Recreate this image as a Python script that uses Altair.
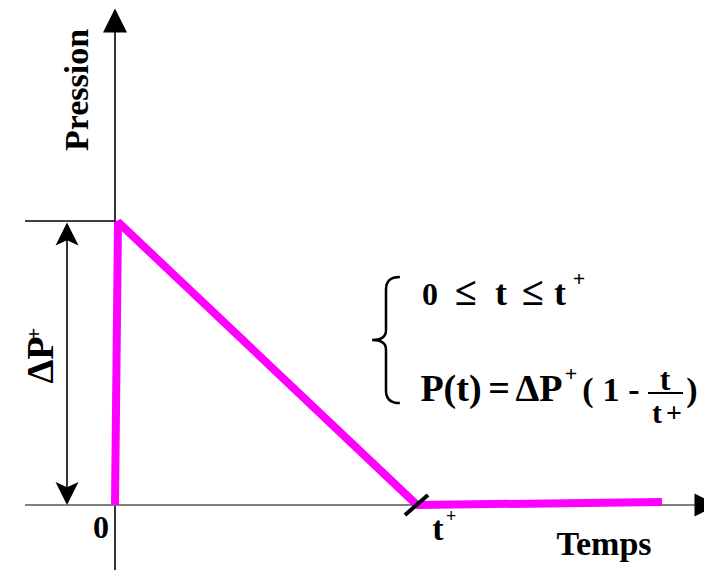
import altair as alt
import pandas as pd

# Units: t in multiples of t+, p in multiples of ΔP+
X_DOMAIN = [-0.356667, 1.963333]
Y_DOMAIN = [-0.228873, 1.75]

# Pressure history (triangular pulse)
pulse_t = [0.0, 0.01, 1.0067, 1.8233]
pulse_p = [0.0, 0.9965, 0.0, 0.0106]

# Straight guide lines: axes, reference line, dimension arrow shaft, fraction bar
seg_t1 = [0.0, -0.30, -0.30, -0.16, 1.7767]
seg_p1 = [-0.30, 0.0, 1.0, 0.03, 0.3944]
seg_t2 = [0.0, 1.9333, 0.0, -0.16, 1.8933]
seg_p2 = [1.6655, 0.0, 1.0, 0.97, 0.3944]
seg_col = ["#000000", "#808080", "#000000", "#000000", "#000000"]
seg_w = [1.6, 2.0, 1.6, 1.6, 2.0]

# t+ tick on the time axis
tick_t1 = [0.9667]
tick_p1 = [-0.0352]
tick_t2 = [1.0433]
tick_p2 = [0.0352]

# Arrow heads
head_t = [0.0, 1.97, -0.16, -0.16]
head_p = [1.706, 0.0, 0.9542, 0.0405]
head_shape = [
    "M0,-1L1,1L-1,1Z",
    "M1,0L-1,-1L-1,1Z",
    "M0,-1L1,1L0,0.55L-1,1Z",
    "M0,1L1,-1L0,-0.55L-1,-1Z",
]
head_size = [576, 529, 529, 529]

# Brace
brace_t = [0.9033]
brace_p = [0.581]
brace_shape = ["M0.22,-1Q0,-1 0,-0.8L0,-0.15Q0,0 -0.22,0Q0,0 0,0.15L0,0.8Q0,1 0.22,1"]
brace_size = [15876]

# Texts (alphabetic baseline)
txt_label = ["Pression", "ΔP", "0", "t", "Temps",
             "0", "≤", "t", "≤", "t",
             "P(t)", "=", "ΔP", "(", "1", "-", ")", "t", "t"]
txt_t = [-0.09, -0.2067, -0.0467, 1.0767, 1.63,
         1.05, 1.17, 1.2867, 1.3933, 1.4833,
         1.12, 1.28, 1.4133, 1.5767, 1.6533, 1.73, 1.9233, 1.8333, 1.8067]
txt_p = [1.4613, 0.5106, -0.1162, -0.1232, -0.176,
         0.7042, 0.7042, 0.7042, 0.7042, 0.7042,
         0.3662, 0.3662, 0.3662, 0.3662, 0.3662, 0.3662, 0.3662, 0.4049, 0.2887]
txt_fs = [34, 38, 32, 34, 34,
          32, 40, 36, 40, 36,
          38, 38, 38, 34, 34, 34, 34, 32, 30]
txt_angle = [270, 270, 0, 0, 0,
             0, 0, 0, 0, 0,
             0, 0, 0, 0, 0, 0, 0, 0, 0]

# Superscript "+" signs (middle baseline)
sup_label = ["+", "+", "+", "+", "+"]
sup_t = [-0.27, 1.12, 1.5467, 1.52, 1.8633]
sup_p = [0.602, -0.0423, 0.7958, 0.4613, 0.3204]
sup_fs = [22, 18, 22, 22, 28]
sup_angle = [270, 0, 0, 0, 0]

xs = alt.Scale(domain=X_DOMAIN, nice=False, zero=False)
ys = alt.Scale(domain=Y_DOMAIN, nice=False, zero=False)

seg_df = pd.DataFrame({"t1": seg_t1, "p1": seg_p1, "t2": seg_t2, "p2": seg_p2,
                       "col": seg_col, "w": seg_w})
segs = alt.Chart(seg_df).mark_rule().encode(
    x=alt.X("t1:Q", scale=xs, axis=None),
    x2="t2:Q",
    y=alt.Y("p1:Q", scale=ys, axis=None),
    y2="p2:Q",
    color=alt.Color("col:N", scale=None),
    strokeWidth=alt.StrokeWidth("w:Q", scale=None),
)

pulse_df = pd.DataFrame({"t": pulse_t, "p": pulse_p, "o": list(range(len(pulse_t)))})
pulse = alt.Chart(pulse_df).mark_line(color="#FF00FF", strokeWidth=8, strokeJoin="bevel").encode(
    x=alt.X("t:Q", scale=xs, axis=None),
    y=alt.Y("p:Q", scale=ys, axis=None),
    order="o:Q",
)

tick_df = pd.DataFrame({"t1": tick_t1, "p1": tick_p1, "t2": tick_t2, "p2": tick_p2})
tick = alt.Chart(tick_df).mark_rule(color="black", strokeWidth=4).encode(
    x=alt.X("t1:Q", scale=xs, axis=None),
    x2="t2:Q",
    y=alt.Y("p1:Q", scale=ys, axis=None),
    y2="p2:Q",
)

head_df = pd.DataFrame({"t": head_t, "p": head_p, "shape": head_shape, "size": head_size})
heads = alt.Chart(head_df).mark_point(filled=True, color="black", opacity=1, strokeWidth=0).encode(
    x=alt.X("t:Q", scale=xs, axis=None),
    y=alt.Y("p:Q", scale=ys, axis=None),
    shape=alt.Shape("shape:N", scale=None),
    size=alt.Size("size:Q", scale=None),
)

brace_df = pd.DataFrame({"t": brace_t, "p": brace_p, "shape": brace_shape, "size": brace_size})
brace = alt.Chart(brace_df).mark_point(filled=False, color="black", opacity=1, strokeWidth=2.5).encode(
    x=alt.X("t:Q", scale=xs, axis=None),
    y=alt.Y("p:Q", scale=ys, axis=None),
    shape=alt.Shape("shape:N", scale=None),
    size=alt.Size("size:Q", scale=None),
)

txt_df = pd.DataFrame({"label": txt_label, "t": txt_t, "p": txt_p, "fs": txt_fs, "angle": txt_angle})
texts = alt.Chart(txt_df).mark_text(
    font="Liberation Serif", fontWeight="bold", align="center", baseline="alphabetic", color="black"
).encode(
    x=alt.X("t:Q", scale=xs, axis=None),
    y=alt.Y("p:Q", scale=ys, axis=None),
    text="label:N",
    size=alt.Size("fs:Q", scale=None),
    angle=alt.Angle("angle:Q", scale=None),
)

sup_df = pd.DataFrame({"label": sup_label, "t": sup_t, "p": sup_p, "fs": sup_fs, "angle": sup_angle})
sups = alt.Chart(sup_df).mark_text(
    font="Liberation Serif", fontWeight="bold", align="center", baseline="middle", color="black"
).encode(
    x=alt.X("t:Q", scale=xs, axis=None),
    y=alt.Y("p:Q", scale=ys, axis=None),
    text="label:N",
    size=alt.Size("fs:Q", scale=None),
    angle=alt.Angle("angle:Q", scale=None),
)

chart = alt.layer(segs, pulse, tick, heads, brace, texts, sups).properties(
    width=696, height=562, padding=0, autosize="none", background="white"
).configure_view(stroke=None)

chart.save("out.html", embed_options={"renderer": "svg", "actions": False})
